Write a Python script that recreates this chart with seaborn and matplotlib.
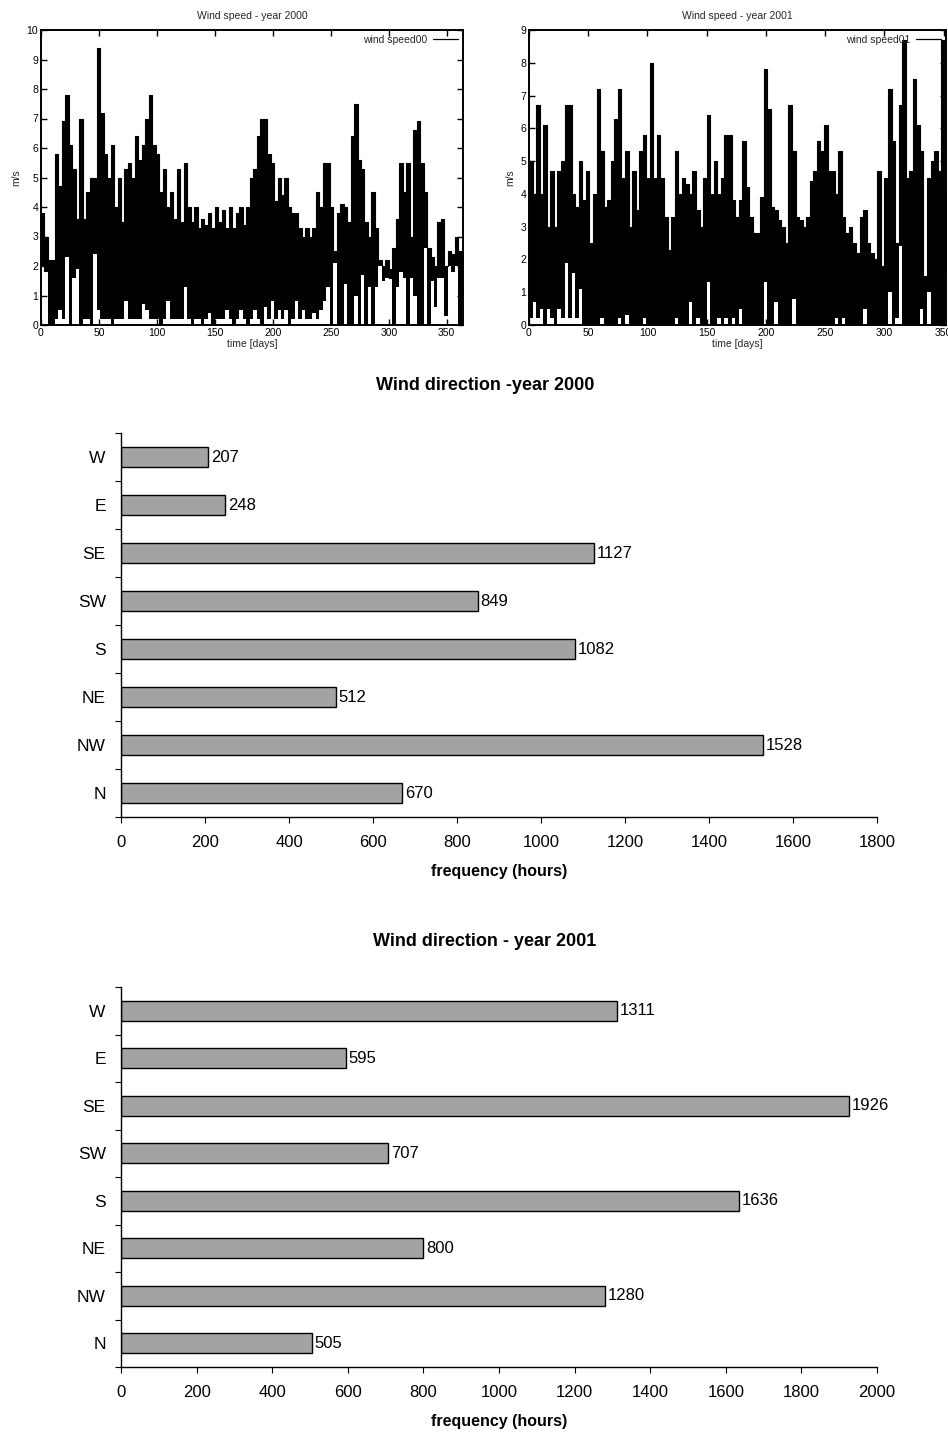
import numpy as np
import matplotlib
matplotlib.use("Agg")
import matplotlib.pyplot as plt
import seaborn as sns
from matplotlib import font_manager as fm

# ---------------- data ----------------
# wind speed, 3-day bins: local maximum (peak) and minimum (trough)
speed_step_days = 3.0
peaks00 = [3.8, 3.0, 2.2, 2.2, 5.8, 4.7, 6.9, 7.8, 6.1, 5.3,
           3.6, 7.0, 3.6, 4.5, 5.0, 5.0, 9.4, 7.2, 5.8, 5.0,
           6.1, 4.0, 5.0, 3.5, 5.3, 5.5, 5.0, 6.4, 5.6, 6.1,
           7.0, 7.8, 6.1, 5.8, 4.5, 5.3, 4.0, 4.5, 3.6, 5.3,
           3.5, 5.5, 4.0, 3.5, 4.0, 3.3, 3.6, 3.4, 3.8, 3.3,
           4.0, 3.5, 3.9, 3.3, 4.0, 3.3, 3.8, 4.0, 3.4, 4.0,
           5.0, 5.3, 6.4, 7.0, 7.0, 5.8, 5.5, 4.2, 5.0, 4.4,
           5.0, 4.0, 3.8, 3.8, 3.3, 3.0, 3.3, 3.0, 3.3, 4.5,
           4.0, 5.5, 5.5, 4.0, 2.5, 3.8, 4.1, 4.0, 3.5, 6.4,
           7.5, 5.6, 5.3, 3.5, 3.0, 4.5, 3.3, 2.2, 2.0, 2.2,
           1.6, 2.6, 3.6, 5.5, 4.5, 5.5, 3.0, 6.6, 6.9, 5.5,
           4.5, 2.6, 2.3, 2.0, 3.5, 3.6, 2.0, 2.5, 2.4, 3.0,
           2.5, 2.4]
troughs00 = [2.0, 1.8, 0.0, 0.0, 0.2, 0.5, 0.2, 2.3, 0.0, 1.6,
             1.9, 0.0, 0.2, 0.2, 0.0, 2.4, 0.5, 0.2, 0.2, 0.2,
             0.0, 0.2, 0.2, 0.2, 0.8, 0.2, 0.2, 0.2, 0.2, 0.7,
             0.5, 0.2, 0.2, 0.2, 0.0, 0.2, 0.8, 0.2, 0.2, 0.2,
             0.2, 1.3, 0.2, 0.0, 0.2, 0.2, 0.0, 0.2, 0.4, 0.0,
             0.2, 0.2, 0.2, 0.5, 0.2, 0.0, 0.2, 0.5, 0.2, 0.0,
             0.2, 0.5, 0.2, 0.0, 0.6, 0.2, 0.8, 0.2, 0.5, 0.2,
             0.5, 0.0, 0.2, 0.8, 0.2, 0.5, 0.2, 0.2, 0.4, 0.2,
             0.5, 0.8, 1.3, 0.0, 2.1, 0.0, 0.0, 1.4, 0.0, 0.0,
             1.0, 0.0, 1.7, 0.0, 1.3, 0.0, 1.3, 2.0, 1.5, 1.6,
             1.9, 0.0, 1.3, 1.8, 1.6, 0.0, 1.6, 1.0, 0.0, 0.0,
             2.6, 0.0, 1.5, 0.6, 1.6, 1.6, 0.3, 2.0, 1.8, 2.0,
             0.0, 1.0]
peaks01 = [5.0, 4.0, 6.7, 4.0, 6.1, 3.0, 4.7, 3.0, 4.7, 5.0,
           6.7, 6.7, 4.0, 3.6, 5.0, 3.8, 4.7, 2.5, 4.0, 7.2,
           5.3, 3.6, 3.8, 5.0, 6.3, 7.2, 4.5, 5.3, 3.0, 4.7,
           3.5, 5.3, 5.8, 4.5, 8.0, 4.5, 5.8, 4.5, 3.3, 2.3,
           3.3, 5.3, 4.0, 4.5, 4.3, 4.0, 4.7, 3.5, 3.0, 4.5,
           6.4, 4.0, 5.0, 4.0, 4.5, 5.8, 5.8, 3.8, 3.3, 3.8,
           5.6, 4.2, 3.3, 2.8, 2.8, 3.9, 7.8, 6.6, 3.6, 3.5,
           3.2, 3.0, 2.5, 6.7, 5.3, 3.3, 3.2, 3.0, 3.3, 4.4,
           4.7, 5.6, 5.3, 6.1, 4.7, 4.7, 4.0, 5.3, 3.3, 2.8,
           3.0, 2.5, 2.2, 3.3, 3.5, 2.5, 2.2, 2.0, 4.7, 1.8,
           4.5, 7.2, 5.6, 2.5, 6.7, 8.7, 4.5, 4.7, 7.5, 6.1,
           5.3, 1.5, 4.5, 5.0, 5.3, 4.7, 8.7, 4.0]
troughs01 = [0.2, 0.7, 0.2, 0.5, 0.0, 0.5, 0.2, 0.0, 0.5, 0.2,
             1.9, 0.2, 1.6, 0.2, 1.1, 0.0, 0.0, 0.0, 0.0, 0.0,
             0.2, 0.0, 0.0, 0.0, 0.0, 0.2, 0.0, 0.3, 0.0, 0.0,
             0.0, 0.0, 0.2, 0.0, 0.0, 0.0, 0.0, 0.0, 0.0, 0.0,
             0.0, 0.2, 0.0, 0.0, 0.0, 0.7, 0.0, 0.2, 0.0, 0.0,
             1.3, 0.0, 0.0, 0.2, 0.0, 0.2, 0.0, 0.2, 0.0, 0.5,
             0.0, 0.0, 0.0, 0.0, 0.0, 0.0, 1.3, 0.0, 0.0, 0.7,
             0.0, 0.0, 0.0, 0.0, 0.8, 0.0, 0.0, 0.0, 0.0, 0.0,
             0.0, 0.0, 0.0, 0.0, 0.0, 0.0, 0.2, 0.0, 0.2, 0.0,
             0.0, 0.0, 0.0, 0.0, 0.5, 0.0, 0.0, 0.0, 0.0, 0.0,
             0.0, 1.0, 0.0, 0.2, 2.4, 0.0, 0.0, 0.0, 0.0, 0.0,
             0.5, 0.0, 1.0, 0.0, 0.0, 0.0, 0.0, 1.5]

directions = ["W", "E", "SE", "SW", "S", "NE", "NW", "N"]
freq2000 = [207, 248, 1127, 849, 1082, 512, 1528, 670]
freq2001 = [1311, 595, 1926, 707, 1636, 800, 1280, 505]

speed_titles = ["Wind speed - year 2000", "Wind speed - year 2001"]
speed_labels = ["wind speed00", "wind speed01"]
dir_titles = ["Wind direction -year 2000", "Wind direction - year 2001"]

# ---------------- style ----------------
sns.set_theme(style="ticks")
names = {f.name for f in fm.fontManager.ttflist}
narrow = "Liberation Sans Narrow" if "Liberation Sans Narrow" in names else "Liberation Sans"
plt.rcParams["font.family"] = ["Liberation Sans", "DejaVu Sans"]

W, H = 948, 1443
fig = plt.figure(figsize=(W / 100, H / 100), dpi=100)


def px_axes(left, top, right, bottom):
    return fig.add_axes([left / W, 1 - bottom / H, (right - left) / W, (bottom - top) / H])


# ---------------- wind speed panels ----------------
speed_axes = [px_axes(41, 30, 463, 325), px_axes(529, 30, 946, 325)]
series = [(peaks00, troughs00), (peaks01, troughs01)]
xmax = [364, 352]
ymax = [10, 9]
for i, ax in enumerate(speed_axes):
    pk = np.asarray(series[i][0], float)
    tr = np.asarray(series[i][1], float)
    n = len(pk)
    t = np.arange(n + 1) * speed_step_days          # bin edges
    pk_e = np.append(pk, pk[-1])
    tr_e = np.append(tr, tr[-1])
    ax.fill_between(t, tr_e, pk_e, step="post", color="black", linewidth=0)
    sns.lineplot(x=t, y=pk_e, drawstyle="steps-post", color="black", linewidth=0.8,
                 ax=ax, label=speed_labels[i], sort=False, estimator=None)
    ax.set_xlim(0, xmax[i])
    ax.set_ylim(0, ymax[i])
    ax.set_xticks(np.arange(0, 351, 50))
    ax.set_yticks(np.arange(0, ymax[i] + 1, 1))
    ax.tick_params(direction="in", top=True, right=True, length=4, width=1,
                   labelsize=7.5, pad=2, colors="black")
    for s in ax.spines.values():
        s.set_linewidth(1.4)
        s.set_color("black")
    ax.set_title(speed_titles[i], fontsize=7.5, pad=8)
    ax.set_xlabel("time [days]", fontsize=7.5, labelpad=1)
    ax.set_ylabel("m/s", fontsize=7.5, labelpad=4)
    leg = ax.legend(loc="upper right", frameon=False, markerfirst=False, fontsize=7.5,
                    handlelength=2.4, handletextpad=0.6, borderaxespad=0.25,
                    borderpad=0.2)
    for ln in leg.get_lines():
        ln.set_linewidth(0.9)

# ---------------- wind direction panels ----------------
dir_axes = [px_axes(121, 433, 877, 817), px_axes(121, 987, 877, 1367)]
freqs = [freq2000, freq2001]
xlims = [1800, 2000]
title_y = [385, 941]
for i, ax in enumerate(dir_axes):
    sns.barplot(x=freqs[i], y=directions, orient="h", color="#a3a3a3", saturation=1,
                edgecolor="black", linewidth=1.0, width=0.43, ax=ax)
    ax.set_xlim(0, xlims[i])
    ax.set_xticks(np.arange(0, xlims[i] + 1, 200))
    ax.set_ylim(7.5, -0.5)
    ax.set_yticks(np.arange(-0.5, 8, 1), minor=True)
    ax.tick_params(axis="x", direction="out", length=4, width=0.8, pad=9,
                   labelsize=12, colors="black")
    ax.tick_params(axis="y", which="major", length=0, pad=11, labelsize=12.5,
                   colors="black")
    ax.tick_params(axis="y", which="minor", direction="out", length=4, width=0.8,
                   left=True, colors="black")
    for lab in ax.get_xticklabels() + ax.get_yticklabels():
        lab.set_family(narrow)
        lab.set_color("black")
    sns.despine(ax=ax)
    for s in ("left", "bottom"):
        ax.spines[s].set_linewidth(1.0)
        ax.spines[s].set_color("black")
    ax.set_ylabel("")
    ax.set_xlabel("frequency (hours)", fontsize=11.5, fontweight="bold", labelpad=10,
                  color="black")
    ax.bar_label(ax.containers[0], padding=2, fontsize=12, family=narrow, color="black")
    fig.text(485 / W, 1 - title_y[i] / H, dir_titles[i], ha="center", va="center",
             fontsize=13, fontweight="bold", color="black")

fig.savefig("out.png", dpi=100)
